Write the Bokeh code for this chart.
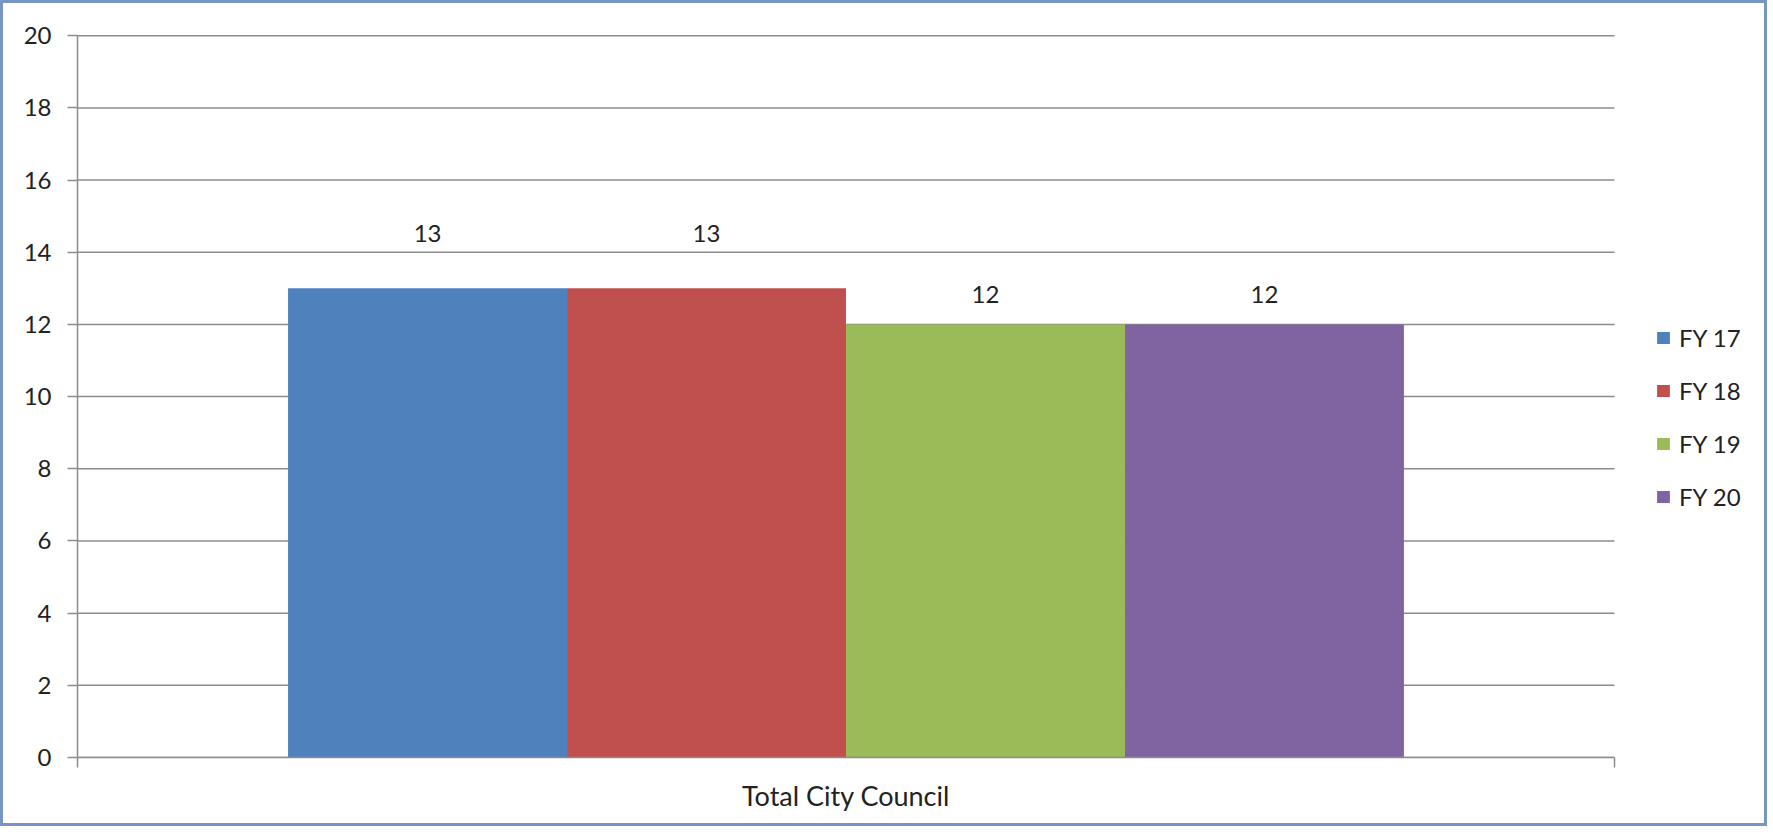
from bokeh.plotting import figure
from bokeh.models import (ColumnDataSource, FixedTicker, Legend, LegendItem,
                          LinearAxis, Range1d)
from bokeh.core.properties import value
from bokeh.embed import file_html
from bokeh.resources import INLINE

# Data
CATEGORY = "Total City Council"
SERIES = ["FY 17", "FY 18", "FY 19", "FY 20"]
VALUES = [13, 13, 12, 12]
Y_TICKS = [0, 2, 4, 6, 8, 10, 12, 14, 16, 18, 20]

# Styling
COLORS = ["#4F81BD", "#C0504D", "#9BBB59", "#8064A2"]
LABEL_RAISE = [55, 55, 30, 30]  # px between bar top and value label centre
FONT = "Lato"
TEXT_COLOR = "#222222"
GRID_COLOR = "#8c8c8c"
GROUP_WIDTH = 0.726  # share of the category occupied by the bar cluster
NUM_SIZE = "24px"

# Canvas geometry (px): the plotting frame is widened to the right so the
# legend can sit inside it; the category itself spans x = 0..1.
CANVAS_W, CANVAS_H = 1767, 826
AXIS_LEFT, CATEGORY_RIGHT, FRAME_RIGHT = 74, 1611, 1764
X_END = (FRAME_RIGHT - AXIS_LEFT) / (CATEGORY_RIGHT - AXIS_LEFT)
Y_MAX = Y_TICKS[-1]
Y_HEADROOM = 0.2

n = len(SERIES)
bar_w = GROUP_WIDTH / n
centers = [0.5 + (i - (n - 1) / 2) * bar_w for i in range(n)]

src = ColumnDataSource(dict(
    x=centers,
    top=VALUES,
    color=COLORS,
    series=SERIES,
    label=[str(v) for v in VALUES],
    yoff=[-r for r in LABEL_RAISE],
))

grid_src = ColumnDataSource(dict(
    x0=[0] * len(Y_TICKS), x1=[1] * len(Y_TICKS), y=Y_TICKS,
))

p = figure(
    width=CANVAS_W, height=CANVAS_H,
    x_range=Range1d(0, X_END), y_range=Range1d(0, Y_MAX + Y_HEADROOM),
    output_backend="svg", toolbar_location=None,
    min_border_left=AXIS_LEFT, min_border_right=CANVAS_W - FRAME_RIGHT,
    min_border_top=25, min_border_bottom=72,
)
p.styles = {"border": "3px solid #7496c0"}
p.outline_line_color = None
p.background_fill_color = "white"
p.border_fill_color = "white"

# horizontal gridlines across the category only
p.segment(x0="x0", x1="x1", y0="y", y1="y", source=grid_src,
          line_color=GRID_COLOR, line_width=1.5)

bars = p.vbar(x="x", top="top", bottom=0, width=bar_w, color="color",
              line_color=None, source=src)

p.text(x="x", y="top", text="label", y_offset="yoff", source=src,
       text_align="center", text_baseline="middle",
       text_font=value(FONT), text_font_size=NUM_SIZE, text_color=TEXT_COLOR)

# Y axis
p.yaxis.ticker = FixedTicker(ticks=Y_TICKS)
p.yaxis.bounds = (0, Y_MAX)
p.yaxis.axis_line_color = GRID_COLOR
p.yaxis.axis_line_width = 1.5
p.yaxis.major_tick_line_color = GRID_COLOR
p.yaxis.major_tick_line_width = 1.5
p.yaxis.major_tick_out = 10
p.yaxis.major_tick_in = 0
p.yaxis.minor_tick_line_color = None
p.yaxis.major_label_standoff = 16
p.yaxis.major_label_text_font = FONT
p.yaxis.major_label_text_font_size = NUM_SIZE
p.yaxis.major_label_text_color = TEXT_COLOR

# X axis: line plus tick marks at the category boundaries
p.xaxis.ticker = FixedTicker(ticks=[0, 1])
p.xaxis.bounds = (0, 1)
p.xaxis.major_label_overrides = {0: "", 1: ""}
p.xaxis.major_label_text_font_size = "1px"
p.xaxis.major_label_standoff = 0
p.xaxis.axis_line_color = GRID_COLOR
p.xaxis.axis_line_width = 1.5
p.xaxis.major_tick_line_color = GRID_COLOR
p.xaxis.major_tick_line_width = 1.5
p.xaxis.major_tick_out = 10
p.xaxis.major_tick_in = 0
p.xaxis.minor_tick_line_color = None

# second x axis carrying the category name at the category centre
cat_axis = LinearAxis(
    ticker=FixedTicker(ticks=[0.5]),
    major_label_overrides={0.5: CATEGORY},
    axis_line_color=None,
    major_tick_line_color=None,
    minor_tick_line_color=None,
    major_tick_out=0, major_tick_in=0,
    major_label_standoff=11,
    major_label_text_font=FONT,
    major_label_text_font_size="27px",
    major_label_text_color=TEXT_COLOR,
)
p.add_layout(cat_axis, "below")

p.xgrid.grid_line_color = None
p.ygrid.grid_line_color = None

legend = Legend(
    items=[LegendItem(label=s, renderers=[bars], index=i) for i, s in enumerate(SERIES)],
    location=(1578, 246),
    orientation="vertical",
    border_line_color=None,
    background_fill_alpha=0,
    padding=0, margin=0,
    spacing=24,
    glyph_width=16, glyph_height=15,
    label_height=24, label_standoff=8,
    label_text_font=FONT, label_text_font_size=NUM_SIZE,
    label_text_color=TEXT_COLOR,
)
p.add_layout(legend, "center")

open("out.html", "w").write(file_html(p, INLINE))
